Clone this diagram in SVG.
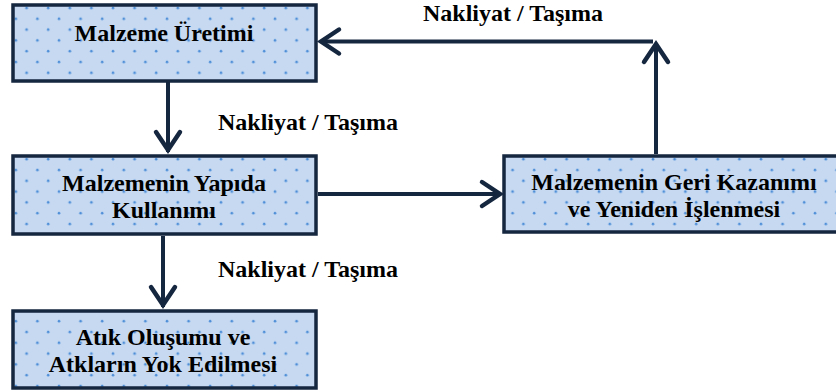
<svg xmlns="http://www.w3.org/2000/svg" width="836" height="392" viewBox="0 0 836 392">
  <style>
    .box { fill: url(#dots); stroke: #15263f; stroke-width: 3.5; }
    .wire { fill: none; stroke: #15263f; stroke-width: 4; }
    .head { fill: none; stroke: #15263f; stroke-width: 4.5; stroke-linecap: round; stroke-linejoin: miter; }
    text { font-family: "Liberation Serif", "Times New Roman", serif; font-weight: bold; font-size: 24px; fill: #000; }
    .c { text-anchor: middle; }
  </style>
  <defs>
    <pattern id="dots" patternUnits="userSpaceOnUse" width="21.6" height="21.6" x="0" y="0">
      <rect width="21.6" height="21.6" fill="#c6d9f1"/>
      <circle cx="5" cy="8" r="1.3" fill="#4f8fd8"/>
      <circle cx="15.8" cy="18.8" r="1.3" fill="#4f8fd8"/>
    </pattern>
  </defs>

  <!-- connectors -->
  <g id="connectors">
    <!-- production to use -->
    <line class="wire" x1="168" y1="82" x2="168" y2="152"/>
    <polyline class="head" points="156,132 168,150 180,132"/>
    <!-- use to waste -->
    <line class="wire" x1="163" y1="236" x2="163" y2="307"/>
    <polyline class="head" points="151,287 163,305 175,287"/>
    <!-- use to recycling -->
    <line class="wire" x1="318" y1="194" x2="500" y2="194"/>
    <polyline class="head" points="482,182 500,194 482,206"/>
    <!-- recycling back to production -->
    <line class="wire" x1="656" y1="154" x2="656" y2="44"/>
    <polyline class="head" points="644,62 656,44 668,62"/>
    <line class="wire" x1="653" y1="41.5" x2="321" y2="41.5"/>
    <polyline class="head" points="339,29.5 321,41.5 339,53.5"/>
  </g>

  <g id="uretim">
    <rect class="box" x="13" y="5" width="303" height="76"/>
    <text class="c" x="164" y="41">Malzeme Üretimi</text>
  </g>

  <g id="kullanim">
    <rect class="box" x="13" y="156" width="303" height="78"/>
    <text class="c" x="164" y="191">Malzemenin Yapıda</text>
    <text class="c" x="164" y="218">Kullanımı</text>
  </g>

  <g id="geri-kazanim">
    <rect class="box" x="504" y="156" width="340" height="76"/>
    <text class="c" x="674" y="190">Malzemenin Geri Kazanımı</text>
    <text class="c" x="674" y="217">ve Yeniden İşlenmesi</text>
  </g>

  <g id="atik">
    <rect class="box" x="13" y="311" width="303" height="77"/>
    <text class="c" x="163" y="345">Atık Oluşumu ve</text>
    <text class="c" x="163" y="372">Atkların Yok Edilmesi</text>
  </g>

  <g id="labels">
    <text class="c" x="513" y="21">Nakliyat / Taşıma</text>
    <text class="c" x="308" y="130">Nakliyat / Taşıma</text>
    <text class="c" x="308" y="277">Nakliyat / Taşıma</text>
  </g>
</svg>
